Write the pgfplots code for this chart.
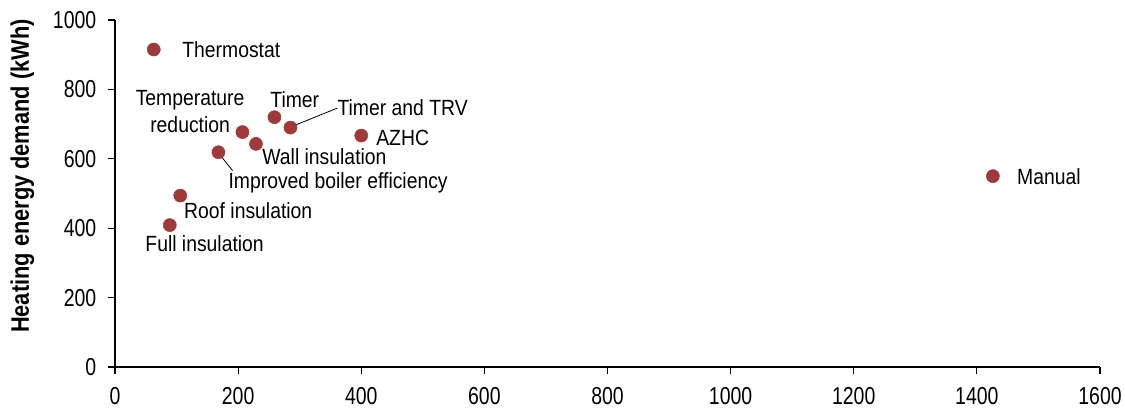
\documentclass[border=0pt]{standalone}
\usepackage{fontspec}
\setmainfont{Liberation Sans}
\newfontfamily\lblfont{Liberation Sans}[FakeStretch=0.88]
\newfontfamily\yfont{Liberation Sans}[FakeStretch=0.86]
\usepackage{pgfplots}
\pgfplotsset{compat=1.18}
\definecolor{mk}{RGB}{160,58,58}

\pgfplotstableread{
x y
63 915
207 677
259 720
285 690
400 667
229 643
168 619
106 494
89 409
1426 550
}\pts

\tikzset{lbl/.style={inner sep=0, font=\lblfont\fontsize{16.5}{20}\selectfont}}
\newcommand\tk[1]{\scalebox{1.46}[1.84]{#1}}

\begin{document}
\begin{tikzpicture}
\begin{axis}[
  width=738.75pt, height=260.25pt, scale only axis,
  xmin=0, xmax=1600, ymin=0, ymax=1000,
  xtick distance=200, ytick distance=200,
  axis lines=left,
  axis line style={-, line width=0.9pt, black},
  tick align=outside, major tick length=5pt,
  tick style={line width=0.9pt, black},
  /pgf/number format/assume math mode=true,
  /pgf/number format/1000 sep={},
  xticklabel={\tk{\pgfmathprintnumber{\tick}}},
  yticklabel={\tk{\pgfmathprintnumber{\tick}}},
  xticklabel style={yshift=-6.5pt},
  yticklabel style={xshift=-5.5pt},
  ylabel={Heating energy demand (kWh)},
  ylabel style={font=\yfont\bfseries\fontsize{19}{22}\selectfont,
    at={(axis description cs:-0.094,0.55)}, anchor=center},
  clip=false]
\addplot[only marks, mark=*, mark size=4.9pt, mark options={fill=mk, draw=mk}] table {\pts};

\node[lbl, anchor=west] at (axis cs:109,916) {Thermostat};
\node[lbl, align=center] at (axis cs:122,736) {Temperature\\reduction};
\node[lbl] at (axis cs:292,771) {Timer};
\node[lbl, anchor=west] at (axis cs:361,748) {Timer and TRV};
\node[lbl, anchor=west] at (axis cs:424,659) {AZHC};
\node[lbl, anchor=west] at (axis cs:239,606) {Wall insulation};
\node[lbl, anchor=west] at (axis cs:184,531) {Improved boiler efficiency};
\node[lbl, anchor=west] at (axis cs:112,452) {Roof insulation};
\node[lbl, anchor=west] at (axis cs:49,356) {Full insulation};
\node[lbl, anchor=west] at (axis cs:1465,548) {Manual};
\draw[line width=0.6pt] (axis cs:290,695) -- (axis cs:361,746);
\draw[line width=0.6pt] (axis cs:172,608) -- (axis cs:191,566);

\coordinate (o) at (rel axis cs:0,0);
\end{axis}
\pgfresetboundingbox
\path[use as bounding box] (o) ++(-86.25pt,-33.75pt) rectangle ++(843.75pt,309pt);
\end{tikzpicture}
\end{document}
